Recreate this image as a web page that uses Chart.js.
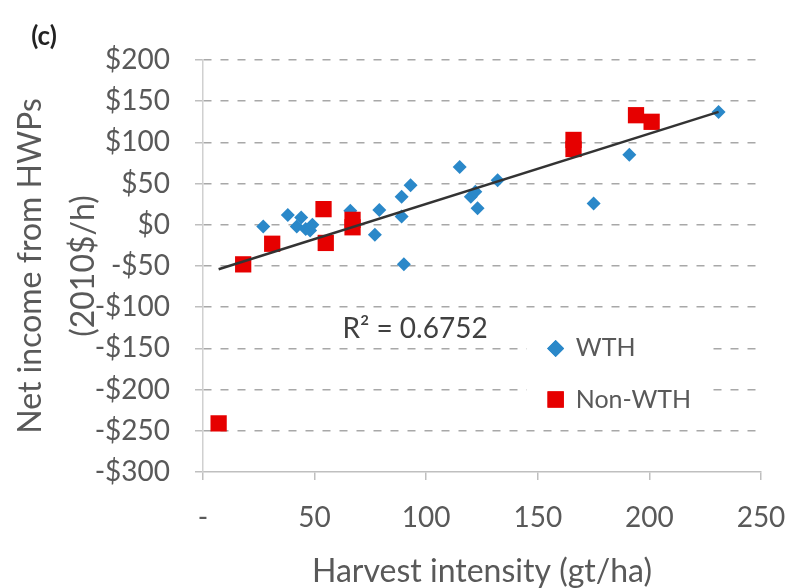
<!DOCTYPE html>
<html>
<head>
<meta charset="utf-8">
<script src="https://cdn.jsdelivr.net/npm/chart.js@4"></script>
<style>
  html, body { margin: 0; padding: 0; background: #fff; }
  canvas { display: block; }
</style>
</head>
<body>
<canvas id="c" width="792" height="588"></canvas>
<script>
// Net income from HWPs vs harvest intensity, WTH / Non-WTH sites + linear trend.
const WTH_X = [27, 38, 42, 44, 46, 48, 49, 66, 77, 79, 89, 89, 90, 93, 115, 120, 122, 123, 132, 175, 191, 231];
const WTH_Y = [-2, 12, -2, 9, -5, -7, 0, 17, -12, 18, 34, 10, -48, 48, 70, 34, 40, 20, 54, 26, 85, 137];
const NON_X = [7, 18, 31, 54, 55, 67, 67, 166, 166, 194, 201];
const NON_Y = [-241, -48, -23, 19, -22, 6, -3, 103, 92, 133, 125];
const TREND_X = [7, 231];
const TREND_Y = [-54, 137];
const X_TICKS = [0, 50, 100, 150, 200, 250];
const Y_TICKS = [-300, -250, -200, -150, -100, -50, 0, 50, 100, 150, 200];
const R2_TEXT = "R\u00B2 = 0.6752";

const FONT = "Lato, 'Open Sans', sans-serif";
const BLUE = "#2a88c9";
const RED = "#e60000";
const GRID = "#a8a8a8";
const AXIS = "#bfbfbf";
const TEXT = "#595959";

const pts = (xs, ys) => xs.map((x, i) => ({ x, y: ys[i] }));
const fmtMoney = (v) => v < 0 ? `-$${Math.abs(v)}` : `$${v}`;

// Legend box, R² label and panel tag, placed through the scales.
const extras = {
  id: "extras",
  afterDatasetsDraw(c) {
    const { ctx, scales: { x, y } } = c;
    ctx.save();
    // legend box (hides the gridlines behind it)
    const bx0 = x.getPixelForValue(145), bx1 = x.getPixelForValue(226);
    const by0 = y.getPixelForValue(-118), by1 = y.getPixelForValue(-232);
    ctx.fillStyle = "#fff";
    ctx.fillRect(bx0, by0, bx1 - bx0, by1 - by0);

    const mx = x.getPixelForValue(158), tx = x.getPixelForValue(167);
    const rows = [
      { label: "WTH", yv: -150, style: "rectRot", r: 8.5, color: BLUE },
      { label: "Non-WTH", yv: -212, style: "rect", r: 11.5, color: RED },
    ];
    ctx.font = `25px ${FONT}`;
    ctx.textBaseline = "middle";
    ctx.textAlign = "left";
    rows.forEach(row => {
      const py = y.getPixelForValue(row.yv);
      ctx.fillStyle = row.color;
      Chart.helpers.drawPoint(ctx, { pointStyle: row.style, radius: row.r, rotation: 0, borderWidth: 0 }, mx, py);
      ctx.fill();
      ctx.fillStyle = TEXT;
      ctx.fillText(row.label, tx, py);
    });

    // R² annotation
    ctx.fillStyle = "#404040";
    ctx.font = `28px ${FONT}`;
    ctx.textAlign = "center";
    ctx.fillText(R2_TEXT, x.getPixelForValue(95), y.getPixelForValue(-127));

    // panel tag
    ctx.fillStyle = "#222";
    ctx.font = `bold 26px ${FONT}`;
    ctx.fillText("(c)", 44, 37);
    ctx.restore();
  },
};

new Chart(document.getElementById("c"), {
  type: "scatter",
  data: {
    datasets: [
      { label: "WTH", data: pts(WTH_X, WTH_Y), pointStyle: "rectRot", pointRadius: 7,
        backgroundColor: BLUE, borderColor: BLUE, borderWidth: 0, order: 2 },
      { label: "Non-WTH", data: pts(NON_X, NON_Y), pointStyle: "rect", pointRadius: 11.5,
        backgroundColor: RED, borderColor: RED, borderWidth: 0, order: 1 },
      { type: "line", label: "Trend", data: pts(TREND_X, TREND_Y), borderColor: "#333",
        borderWidth: 2.5, pointRadius: 0, fill: false, order: 0 },
    ],
  },
  options: {
    responsive: false, animation: false, devicePixelRatio: 1,
    layout: { padding: { top: 60, right: 0, left: 0, bottom: 0 } },
    plugins: { legend: { display: false }, tooltip: { enabled: false } },
    scales: {
      x: {
        type: "linear", min: 0, max: 250,
        afterBuildTicks: (s) => { s.ticks = X_TICKS.map(v => ({ value: v })); },
        // fixed plot frame: axis band height and right margin as in the figure
        afterFit: (s) => { s.height = 116; s.paddingLeft = 0; s.paddingRight = 31; },
        ticks: { color: TEXT, font: { size: 28, family: FONT }, padding: 21, autoSkip: false,
                 maxRotation: 0, callback: (v) => v === 0 ? "-" : String(v) },
        grid: { drawOnChartArea: false, tickLength: 8, color: AXIS, tickColor: AXIS, lineWidth: 1.5 },
        border: { color: AXIS, width: 1.5 },
        title: { display: true, text: "Harvest intensity (gt/ha)", color: TEXT,
                 font: { size: 32, family: FONT, lineHeight: 1 }, padding: { top: 0, bottom: 0 } },
      },
      y: {
        type: "linear", min: -300, max: 200,
        afterBuildTicks: (s) => { s.ticks = Y_TICKS.map(v => ({ value: v })); },
        afterFit: (s) => { s.width = 203; },
        ticks: { color: TEXT, font: { size: 28, family: FONT }, padding: 25, autoSkip: false,
                 callback: fmtMoney },
        grid: {
          color: (ctx) => ctx.tick && ctx.tick.value === -300 ? "rgba(0,0,0,0)" : GRID,
          tickColor: AXIS, tickLength: 8, lineWidth: 1.5,
        },
        border: { color: "#d0d0d0", width: 1.5, dash: [8, 9] },
        title: { display: true, text: ["Net income from HWPs", "(2010$/h)"], color: TEXT,
                 font: { size: 32, family: FONT, lineHeight: 1.65 }, padding: { top: 4, bottom: 0 } },
      },
    },
  },
  plugins: [extras],
});
</script>
</body>
</html>
